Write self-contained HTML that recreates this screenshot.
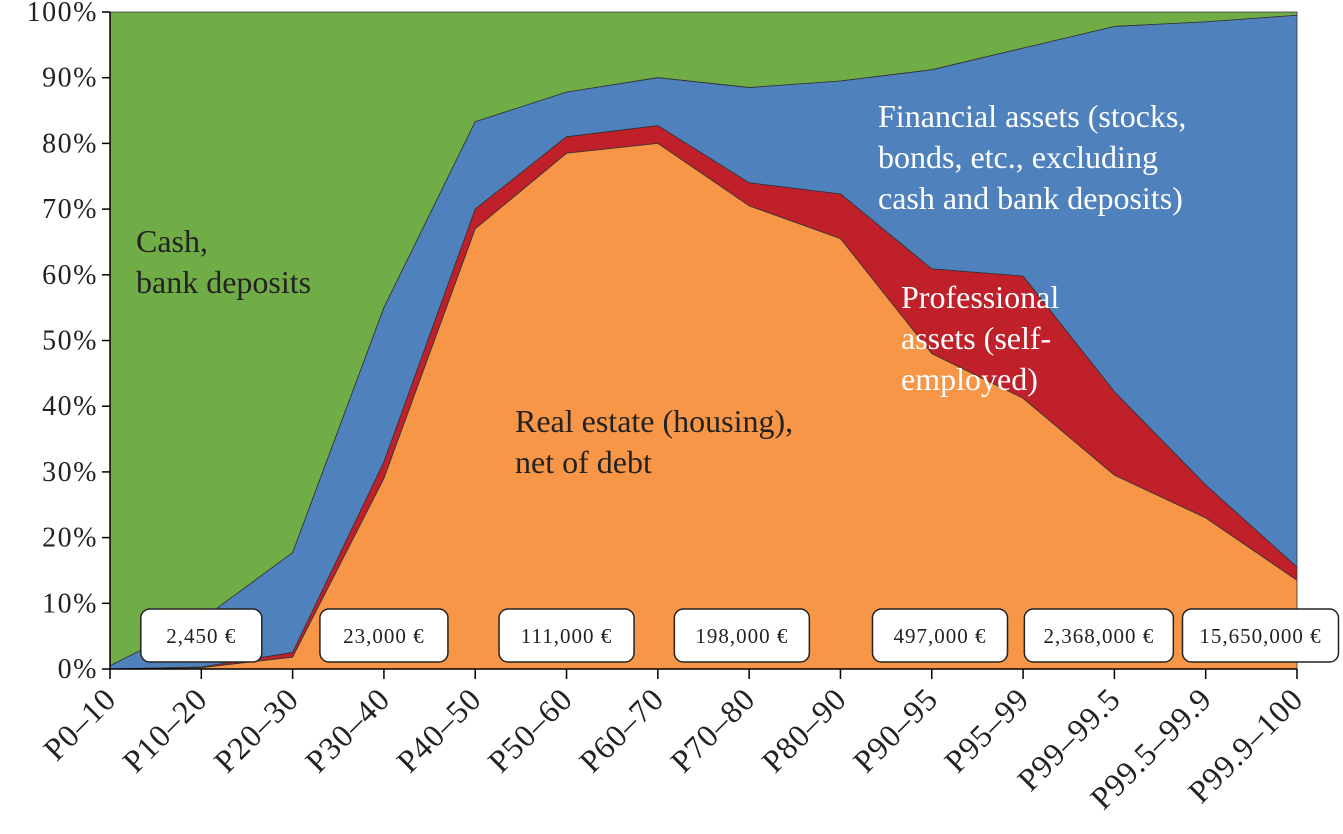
<!DOCTYPE html>
<html><head><meta charset="utf-8"><style>
html,body{margin:0;padding:0;background:#fff;}
svg text{font-family:"Liberation Serif",serif;}
</style></head><body>
<svg id="chart" width="1343" height="829" viewBox="0 0 1343 829" xmlns="http://www.w3.org/2000/svg">
<g id="areas"></g>
<g id="axes"></g>
<g id="labels"></g>
</svg>
<script>
const categories = ["P0–10","P10–20","P20–30","P30–40","P40–50","P50–60","P60–70","P70–80","P80–90","P90–95","P95–99","P99–99.5","P99.5–99.9","P99.9–100"];
const realEstate   = [0, 0.2, 1.8, 29, 67, 78.5, 80, 70.5, 65.5, 48, 41.2, 29.5, 23, 13.5];
const professional = [0, 0.1, 0.7, 2.5, 3, 2.5, 2.7, 3.5, 6.8, 12.9, 18.6, 12.7, 5, 2];
const financial    = [0.5, 7.2, 15.2, 23.5, 13.3, 6.8, 7.3, 14.5, 17.2, 30.3, 34.7, 55.6, 70.5, 84];
const yTicks = [0,10,20,30,40,50,60,70,80,90,100];
const incomeLabels = ["2,450 €","23,000 €","111,000 €","198,000 €","497,000 €","2,368,000 €","15,650,000 €"];
const incomeCenters = [1.0, 3.0, 5.0, 6.92, 9.09, 10.83, 12.6];

const X0=110, X1=1297, Y0=669, Y1=12;
const xS = i => X0 + i*(X1-X0)/(categories.length-1);
const yS = v => Y0 - v*(Y0-Y1)/100;
const NS="http://www.w3.org/2000/svg";
function mk(tag, attrs, parent){const e=document.createElementNS(NS,tag);for(const k in attrs)e.setAttribute(k,attrs[k]);parent.appendChild(e);return e;}

const cum1 = realEstate.slice();
const cum2 = cum1.map((v,i)=>v+professional[i]);
const cum3 = cum2.map((v,i)=>v+financial[i]);
const cum4 = cum3.map(()=>100);
function band(lo,hi){
  let d="M"+hi.map((v,i)=>xS(i)+","+yS(v)).join(" L");
  for(let i=lo.length-1;i>=0;i--) d+=" L"+xS(i)+","+yS(lo[i]);
  return d+"Z";
}
const areas=document.getElementById("areas");
const zero=cum1.map(()=>0);
const layers=[[cum3,cum4,"#70ad47","area-cash-deposits"],[cum2,cum3,"#4f81bd","area-financial-assets"],[cum1,cum2,"#c0202a","area-professional-assets"],[zero,cum1,"#f79646","area-real-estate"]];
layers.forEach(l=>{
  const p=mk("path",{d:band(l[0],l[1]),fill:l[2],stroke:"#333","stroke-width":0.8,"stroke-linejoin":"round"},areas);
  
  
});

const axes=document.getElementById("axes");
mk("line",{x1:X0,y1:Y1,x2:X0,y2:Y0,stroke:"#000","stroke-width":1.5},axes);
mk("line",{x1:X0,y1:Y0,x2:X1,y2:Y0,stroke:"#000","stroke-width":1.5},axes);
yTicks.forEach(t=>{
  mk("line",{x1:X0-8,y1:yS(t),x2:X0,y2:yS(t),stroke:"#000","stroke-width":1.5},axes);
  const tx=mk("text",{x:X0-12,y:yS(t)+9,"text-anchor":"end","font-size":28,fill:"#222","letter-spacing":1.5},axes);
  tx.textContent=t+"%";
  
  
});
categories.forEach((c,i)=>{
  mk("line",{x1:xS(i),y1:Y0,x2:xS(i),y2:Y0+10,stroke:"#000","stroke-width":1.5},axes);
  const tx=mk("text",{x:xS(i)+8,y:Y0+32,"text-anchor":"end","font-size":32,fill:"#222","letter-spacing":1,transform:"rotate(-45 "+(xS(i)+8)+" "+(Y0+32)+")"},axes);
  tx.textContent=c;
  
  
});

const labels=document.getElementById("labels");
incomeLabels.forEach((s,i)=>{
  const cx=xS(0)+incomeCenters[i]*(X1-X0)/(categories.length-1);
  const w=s.length*7+72;
  const r=mk("rect",{x:cx-w/2,y:609,width:w,height:53,rx:9,fill:"#fff",stroke:"#222","stroke-width":1.5},labels);
  
  
  const t=mk("text",{x:cx,y:643,"text-anchor":"middle","font-size":21,fill:"#222","letter-spacing":1},labels);
  t.textContent=s;
  
  
});
function block(lines,x,y,color,name){
  const t=mk("text",{x:x,y:y,"font-size":32,fill:color},labels);
  
  
  lines.forEach((ln,i)=>{const s=mk("tspan",{x:x,dy:i?41:0},t);s.textContent=ln;});
}
block(["Cash,","bank deposits"],136,252,"#222","cash-label");
block(["Real estate (housing),","net of debt"],515,432,"#222","real-estate-label");
block(["Financial assets (stocks,","bonds, etc., excluding","cash and bank deposits)"],878,127,"#fff","financial-assets-label");
block(["Professional","assets (self-","employed)"],901,308,"#fff","professional-assets-label");
</script>
</body></html>
